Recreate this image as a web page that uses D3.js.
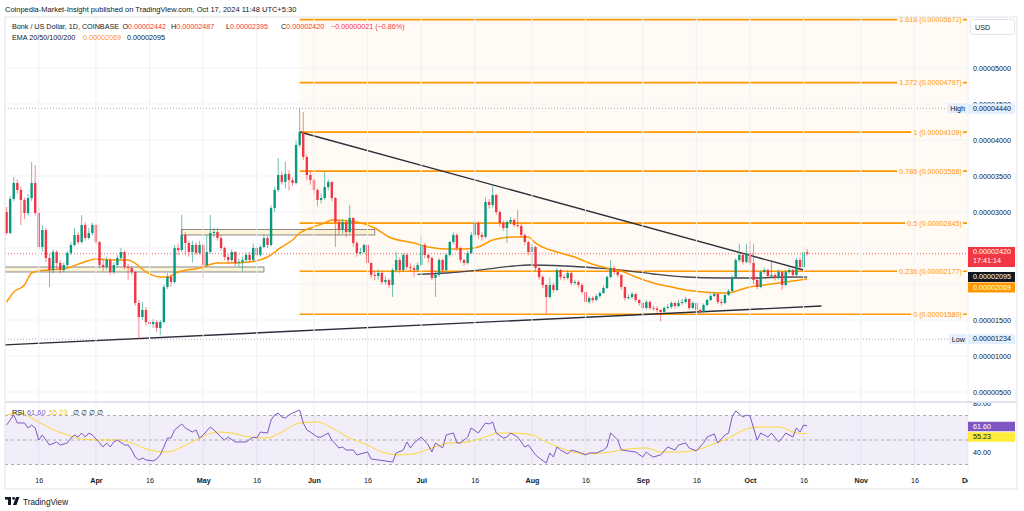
<!DOCTYPE html>
<html>
<head>
<meta charset="utf-8">
<script src="https://cdn.jsdelivr.net/npm/d3@7"></script>
<style>
body{margin:0;background:#fff;}
svg{display:block;font-family:"Liberation Sans",Arial,sans-serif;}
</style>
</head>
<body>
<svg id="chart" width="1024" height="511"></svg>
<script>
// BONK/USD daily, prices in units of 1e-8 USD
var firstDay = '2024-03-07';
var firstOpen = 3000;

var closes = [2708,3181,3403,3306,3167,2986,3194,3403,2986,2514,
	2750,2361,2194,2444,2292,2194,2264,2431,2542,2681,
	2583,2819,2639,2708,2819,2583,2264,2236,2333,2167,
	2264,2361,2444,2236,2222,2167,1736,1542,1639,1472,
	1444,1472,1389,1472,1958,2097,2028,2500,2472,2681,
	2569,2444,2542,2431,2542,2264,2444,2708,2722,2639,
	2500,2375,2333,2444,2292,2306,2333,2403,2333,2500,
	2403,2514,2639,2542,3056,3306,3514,3417,3528,3444,
	3403,3931,4111,3764,3514,3444,3306,3167,3194,3347,
	3417,3194,2861,2750,2861,2722,2917,2569,2431,2444,
	2542,2292,2125,2111,2153,2028,2056,1986,2194,2333,
	2194,2403,2236,2222,2194,2264,2542,2403,2361,2083,
	2125,2333,2194,2403,2583,2681,2500,2333,2292,2431,
	2681,2847,2681,2653,3139,3097,3236,3000,2847,2778,
	2861,2889,2819,2806,2681,2583,2444,2514,2222,2097,
	1986,1819,1986,1917,2194,2097,2083,2153,2014,2028,
	1986,1889,1750,1806,1778,1833,1875,1944,2097,2222,
	2167,2125,1958,1806,1819,1861,1778,1736,1667,1750,
	1667,1660,1639,1611,1667,1681,1736,1694,1736,1750,
	1792,1667,1736,1639,1611,1708,1778,1833,1861,1750,
	1736,1847,1903,2097,2333,2403,2306,2431,2292,2056,
	1958,2167,2194,2111,2125,2083,2167,1986,2167,2194,
	2125,2333,2236,2442,2420];

var highs = [3070,3220,3486,3450,3350,3200,3250,3694,3653,3050,
	2820,2780,2420,2480,2470,2330,2300,2460,2580,2778,
	2720,2958,2860,2780,2850,2840,2600,2350,2380,2360,
	2300,2400,2500,2470,2280,2250,2180,1780,1750,1680,
	1560,1510,1500,1500,1990,2150,2130,2540,2560,2960,
	2720,2600,2600,2580,2600,2560,2680,2958,2780,2780,
	2680,2520,2420,2480,2460,2350,2380,2440,2450,2560,
	2520,2540,2680,2670,3090,3350,3750,3560,3700,3580,
	3480,3990,4440,4389,3800,3560,3470,3330,3260,3560,
	3450,3430,3210,2890,2900,2880,3100,2930,2600,2500,
	2560,2560,2300,2180,2200,2170,2100,2080,2220,2450,
	2370,2430,2430,2290,2260,2300,2681,2570,2420,2380,
	2180,2360,2350,2430,2600,2720,2700,2520,2350,2460,
	2720,2900,2870,2720,3200,3180,3360,3250,3020,2880,
	2890,2930,2910,3030,2840,2700,2600,2560,2530,2240,
	2120,2000,2090,2020,2220,2210,2130,2190,2170,2060,
	2050,2010,1900,1830,1830,1860,1900,1980,2120,2333,
	2250,2200,2140,1970,1860,1890,1870,1790,1750,1780,
	1770,1700,1690,1650,1690,1720,1760,1750,1780,1790,
	1820,1800,1760,1750,1660,1730,1800,1860,1890,1880,
	1790,1870,1930,2120,2360,2560,2430,2560,2600,2560,
	2100,2190,2230,2210,2330,2150,2200,2180,2190,2220,
	2210,2360,2370,2520,2487];

var lows = [2680,2690,3150,3250,2819,2900,2950,3150,2950,2480,
	2450,2300,1958,2150,2200,2150,2160,2230,2400,2520,
	2550,2560,2600,2620,2680,2550,2220,2180,2200,2130,
	2140,2240,2330,2200,2060,2120,1700,1234,1500,1420,
	1400,1390,1330,1290,1450,1930,1960,2000,2400,2440,
	2400,2380,2300,2400,2400,2083,2240,2420,2650,2600,
	2460,2330,2290,2300,2250,2240,2180,2300,2300,2310,
	2380,2380,2500,2500,2520,3000,3280,3380,3330,3300,
	3360,3380,3900,3720,3440,3380,3250,3080,3120,3170,
	3300,3150,2514,2680,2700,2650,2700,2520,2380,2400,
	2420,2250,2080,2050,2060,1990,1990,1940,1820,2160,
	2150,2170,2200,2180,2100,2170,2240,2360,2300,2050,
	1820,2100,2150,2170,2380,2550,2460,2300,2250,2270,
	2410,2650,2630,2600,2630,3050,3060,2960,2800,2740,
	2569,2830,2790,2780,2650,2540,2400,2264,2180,2060,
	1940,1580,1800,1880,1900,2060,2050,2060,1980,1990,
	1950,1860,1720,1720,1740,1760,1810,1860,1930,2080,
	2130,2090,1920,1770,1780,1800,1750,1700,1640,1650,
	1640,1630,1600,1480,1590,1650,1660,1660,1680,1710,
	1730,1640,1650,1610,1580,1600,1690,1760,1820,1720,
	1700,1720,1830,1890,2080,2300,2270,2290,2260,2000,
	1930,1940,2140,2080,2090,2050,2060,1920,1970,2140,
	2090,2110,2200,2220,2395];

// EMA lines (day offsets from firstDay)
var emaOrangeDays = [0,2,5,7,9,12,17,21,25,30,34,36,39,43,45,48,54,59,63,68,73,77,80,82,85,89,91,98,103,107,114,118,123,128,132,136,142,146,148,154,159,163,168,172,176,181,186,190,195,200,202,205,208,212,216,220,224];
var emaOrangeValues = [1750,1889,1986,2153,2181,2194,2222,2292,2347,2333,2333,2285,2167,2097,2097,2167,2222,2292,2292,2306,2375,2514,2611,2708,2778,2847,2889,2861,2778,2653,2569,2514,2486,2486,2514,2611,2653,2653,2569,2444,2375,2292,2222,2181,2097,2014,1958,1917,1889,1875,1875,1917,1958,1986,2014,2042,2069];
var emaGrayDays = [115,123,132,142,146,156,165,172,181,190,200,209,218,224];
var emaGrayValues = [2135,2153,2194,2250,2264,2250,2222,2194,2139,2097,2083,2083,2097,2095];

// RSI pane
var rsiDays = [0,2,3,5,6,7,8,9,10,12,14,15,17,18,19,20,21,22,23,24,26,27,28,29,30,31,33,34,35,36,37,38,39,41,42,43,44,45,46,47,49,50,52,53,54,55,57,58,60,61,62,64,65,67,69,70,71,73,74,75,76,77,78,79,80,82,83,84,85,87,88,90,91,93,94,95,97,98,100,101,102,104,106,108,109,111,112,113,114,116,118,119,120,122,123,125,126,127,129,130,132,134,135,136,137,139,140,141,143,145,146,148,149,151,152,153,154,155,157,158,160,162,163,165,167,168,169,171,172,174,176,178,179,180,181,183,185,187,188,190,191,193,195,196,198,199,201,202,203,204,206,207,208,209,210,211,213,214,216,217,218,220,221,222,223,224];
var rsiValues = [62.2,70.4,63.9,63.9,59.8,62.2,59.8,50.0,54.1,45.9,48.4,45.9,47.6,51.6,54.1,52.4,55.7,52.4,55.7,54.1,47.6,44.3,47.6,44.3,48.4,50.0,45.9,45.9,41.8,36.1,33.7,35.3,33.7,32.9,34.5,37.8,44.3,51.6,51.6,58.2,63.1,59.8,56.5,58.2,51.6,54.1,60.6,58.2,52.4,50.0,52.4,48.4,48.4,48.4,52.4,51.6,56.5,55.7,66.3,70.4,72.0,68.8,67.9,70.4,72.0,74.5,63.9,58.2,56.5,52.4,52.4,55.7,50.0,43.5,44.3,41.8,41.8,37.8,39.4,40.2,34.5,33.7,32.9,32.0,39.4,41.8,48.4,43.5,47.6,52.4,45.9,40.2,47.6,43.5,54.1,55.7,47.6,47.6,52.4,59.8,55.7,63.9,63.1,64.7,55.7,51.6,52.4,55.7,52.4,44.3,45.9,37.8,35.3,31.2,39.4,36.1,44.3,41.8,38.6,41.8,40.2,37.8,39.4,39.4,41.8,44.3,55.7,50.0,41.8,41.0,40.2,36.1,40.2,37.8,36.1,37.8,44.3,41.8,45.9,47.6,43.5,41.0,47.6,52.4,54.9,47.6,54.1,55.7,68.8,73.7,68.8,70.4,69.6,59.8,50.0,55.7,52.4,55.7,48.4,51.6,55.7,52.4,59.8,56.5,62.2,61.6];
var rsiMaDays = [0,4,7,12,17,21,26,31,35,40,45,49,54,59,63,68,73,77,82,87,91,96,101,105,110,115,119,124,129,133,138,141,147,151,155,162,169,174,179,183,188,193,197,202,207,211,216,221,224];
var rsiMaValues = [70.4,72.0,67.9,59.8,54.1,50.8,50.0,50.0,47.6,41.8,40.2,44.3,51.6,56.5,55.7,52.4,51.6,56.5,63.9,64.7,59.8,51.6,45.9,40.2,37.8,39.4,43.5,47.6,48.4,51.6,55.7,55.7,54.1,48.4,43.5,38.6,40.2,42.7,43.5,40.2,40.2,41.8,45.9,51.6,59.0,60.6,60.6,55.7,55.2];

// fibonacci retracement
var fibLevels = ['1.618','1.272','1','0.786','0.5','0.236','0'];
var fibPrices = [5672,4797,4109,3568,2845,2177,1580];
var fibStart = '2024-05-28';

// support zones and trend lines
var zoneStarts = ['2024-03-06','2024-04-25'];
var zoneEnds = ['2024-05-18','2024-06-18'];
var zoneTops = [2236,2757];
var zoneBottoms = [2167,2681];
var trendDates = [['2024-05-28','2024-10-16'],['2024-03-06','2024-10-21']];
var trendPrices = [[4111,2194],[1153,1694]];

var highPrice = 4440, lowPrice = 1234, lastPrice = 2420;
var priceTicks = [500,1000,1500,2000,2500,3000,3500,4000,4500,5000];
var priceLabels = [500,1000,1500,3000,3500,4000,4500,5000]; // 2000 and 2500 sit under the value tags
var timeTicks = ['2024-03-16','2024-04-01','2024-04-16','2024-05-01','2024-05-16','2024-06-01','2024-06-16','2024-07-01','2024-07-16','2024-08-01','2024-08-16','2024-09-01','2024-09-16','2024-10-01','2024-10-16','2024-11-01','2024-11-16','2024-12-01'];


var parseDay = d3.utcParse('%Y-%m-%d');
var day0 = parseDay(firstDay);
function dayDate(n){ return d3.utcDay.offset(day0, n); }
function fmtPrice(v){ return (v/1e8).toFixed(8); }

var GREEN = '#089981', RED = '#f23645', ORANGE = '#ff9800', PURPLE = '#7e57c2', TEXT = '#131722';
var FONT = '"Liberation Sans",Arial,sans-serif';
var plotL = 5, plotR = 968, mainT = 17, mainB = 401, rsiT = 403, rsiB = 474;

var x = d3.scaleUtc().domain([parseDay('2024-03-07'), parseDay('2024-12-01')]).range([6.6, 968]);
var y = d3.scaleLinear().domain([0, 5000]).range([428, 68]);
var yr = d3.scaleLinear().domain([30, 70]).range([464.5, 415.5]);

var svg = d3.select('#chart');
var defs = svg.append('defs');
function clip(id, x0, y0, w, h){
	defs.append('clipPath').attr('id', id).append('rect').attr('x', x0).attr('y', y0).attr('width', w).attr('height', h);
}
clip('cMain', plotL, mainT, plotR-plotL, mainB-mainT);
clip('cRsi', plotL, rsiT, plotR-plotL, rsiB-rsiT);
clip('cTime', plotL, rsiB, plotR-plotL, 16);
clip('cRsiAxis', plotR, rsiT, 60, rsiB-rsiT);

svg.append('rect').attr('width', 1024).attr('height', 511).attr('fill', '#fff');

var main = svg.append('g').attr('clip-path', 'url(#cMain)');

// fib background
var fx = x(parseDay(fibStart));
main.append('rect')
	.attr('x', fx).attr('y', y(fibPrices[0]))
	.attr('width', plotR-fx).attr('height', y(fibPrices[6])-y(fibPrices[0]))
	.attr('fill', 'rgba(255,152,0,0.045)');

// grid
var tickDates = timeTicks.map(parseDay);
svg.append('g').selectAll('line').data(tickDates).enter().append('line')
	.attr('x1', function(d){return x(d);}).attr('x2', function(d){return x(d);})
	.attr('y1', mainT).attr('y2', rsiB)
	.attr('stroke', '#eef1f8').attr('stroke-width', 1);
main.append('g').selectAll('line').data(priceTicks).enter().append('line')
	.attr('x1', plotL).attr('x2', plotR)
	.attr('y1', function(d){return y(d);}).attr('y2', function(d){return y(d);})
	.attr('stroke', '#f0f3fa');

// zones
main.append('g').selectAll('rect').data(zoneStarts).enter().append('rect')
	.attr('x', function(d){return x(parseDay(d));})
	.attr('y', function(d,i){return y(zoneTops[i]);})
	.attr('width', function(d,i){return x(parseDay(zoneEnds[i]))-x(parseDay(d));})
	.attr('height', function(d,i){return y(zoneBottoms[i])-y(zoneTops[i]);})
	.attr('fill', 'rgba(250,235,180,0.55)')
	.attr('stroke', '#8a8a8a').attr('stroke-width', 1);

// fib lines
main.append('g').selectAll('line').data(fibPrices).enter().append('line')
	.attr('x1', fx).attr('x2', plotR-1)
	.attr('y1', function(d){return y(d);}).attr('y2', function(d){return y(d);})
	.attr('stroke', ORANGE).attr('stroke-width', 1.6);

// high / low / last price lines
[[highPrice,'#9598a1'],[lowPrice,'#9598a1'],[lastPrice,RED]].forEach(function(p){
	main.append('line').attr('x1', plotL).attr('x2', plotR)
		.attr('y1', y(p[0])).attr('y2', y(p[0]))
		.attr('stroke', p[1]).attr('stroke-width', 1)
		.attr('stroke-dasharray', '1,2').attr('opacity', 0.8);
});

// EMAs
var emaLine = d3.line().curve(d3.curveMonotoneX)
	.x(function(d){return x(dayDate(d[0]));}).y(function(d){return y(d[1]);});
main.append('path').datum(d3.zip(emaGrayDays, emaGrayValues))
	.attr('d', emaLine).attr('fill', 'none').attr('stroke', '#434651').attr('stroke-width', 1.3);
main.append('path').datum(d3.zip(emaOrangeDays, emaOrangeValues))
	.attr('d', emaLine).attr('fill', 'none').attr('stroke', ORANGE).attr('stroke-width', 1.5);

// trend lines
main.append('g').selectAll('line').data(trendDates).enter().append('line')
	.attr('x1', function(d){return x(parseDay(d[0]));})
	.attr('x2', function(d){return x(parseDay(d[1]));})
	.attr('y1', function(d,i){return y(trendPrices[i][0]);})
	.attr('y2', function(d,i){return y(trendPrices[i][1]);})
	.attr('stroke', '#2a2e39').attr('stroke-width', 1.4);

// candles
var candles = closes.map(function(c, i){
	return {date: dayDate(i), open: i === 0 ? firstOpen : closes[i-1], high: highs[i], low: lows[i], close: c};
});
var cg = main.append('g').selectAll('g').data(candles).enter().append('g');
cg.append('line')
	.attr('x1', function(d){return x(d.date);}).attr('x2', function(d){return x(d.date);})
	.attr('y1', function(d){return y(d.high);}).attr('y2', function(d){return y(d.low);})
	.attr('stroke', function(d){return d.close >= d.open ? GREEN : RED;})
	.attr('stroke-width', 0.9).attr('opacity', 0.65);
cg.append('rect')
	.attr('x', function(d){return x(d.date)-1.2;}).attr('width', 2.4)
	.attr('y', function(d){return y(Math.max(d.open, d.close));})
	.attr('height', function(d){return Math.max(0.8, Math.abs(y(d.open)-y(d.close)));})
	.attr('fill', function(d){return d.close >= d.open ? GREEN : RED;});

// fib labels (text over a small patch of the fib background)
var fl = svg.append('g').attr('font-size', 7.2);
fibPrices.forEach(function(p, i){
	var g = fl.append('g');
	var bg = g.append('rect');
	var t = g.append('text').attr('x', 962).attr('y', y(p)+2.5).attr('text-anchor', 'end').attr('fill', ORANGE)
		.text(fibLevels[i]+' ('+fmtPrice(p)+')');
	var w = t.node().getComputedTextLength();
	bg.attr('x', 962-w-2).attr('y', y(p)-4).attr('width', w+3).attr('height', 8).attr('fill', '#fffaf3');
});

// RSI pane
var rp = svg.append('g').attr('clip-path', 'url(#cRsi)');
rp.append('rect').attr('x', plotL).attr('width', plotR-plotL)
	.attr('y', yr(70)).attr('height', yr(30)-yr(70)).attr('fill', 'rgba(126,87,194,0.1)');
rp.append('g').selectAll('line').data([70,50,30]).enter().append('line')
	.attr('x1', plotL).attr('x2', plotR)
	.attr('y1', function(d){return yr(d);}).attr('y2', function(d){return yr(d);})
	.attr('stroke', '#9598a1').attr('stroke-dasharray', '3,3').attr('stroke-width', 0.8);
rp.append('path').datum(d3.zip(rsiMaDays, rsiMaValues))
	.attr('d', d3.line().curve(d3.curveMonotoneX).x(function(d){return x(dayDate(d[0]));}).y(function(d){return yr(d[1]);}))
	.attr('fill', 'none').attr('stroke', '#fdd835').attr('stroke-width', 1);
rp.append('path').datum(d3.zip(rsiDays, rsiValues))
	.attr('d', d3.line().x(function(d){return x(dayDate(d[0]));}).y(function(d){return yr(d[1]);}))
	.attr('fill', 'none').attr('stroke', PURPLE).attr('stroke-width', 1);

var rl = svg.append('text').attr('y', 415).attr('font-size', 7.4).attr('fill', TEXT);
rl.append('tspan').attr('x', 12).text('RSI');
rl.append('tspan').attr('x', 27).attr('fill', PURPLE).text('61.60');
rl.append('tspan').attr('x', 49).attr('fill', '#f0c800').text('55.23');
[73, 81, 89, 97].forEach(function(px){ rl.append('tspan').attr('x', px).text('\u2205'); });

// frame
svg.append('rect').attr('x', plotL).attr('y', mainT).attr('width', 1017-plotL).attr('height', 489-mainT)
	.attr('fill', 'none').attr('stroke', '#e0e3eb');
svg.append('line').attr('x1', plotL).attr('x2', 1017).attr('y1', 402).attr('y2', 402)
	.attr('stroke', '#e0e3eb').attr('stroke-width', 2);

// price axis
var pa = svg.append('g').attr('transform', 'translate('+plotR+',0)')
	.call(d3.axisRight(y).tickValues(priceLabels).tickFormat(fmtPrice).tickSize(0).tickPadding(5));
pa.select('.domain').remove();
pa.selectAll('text').attr('font-size', 7.2).attr('fill', TEXT).attr('font-family', FONT);

var ra = svg.append('g').attr('clip-path', 'url(#cRsiAxis)').append('g').attr('transform', 'translate('+plotR+',0)')
	.call(d3.axisRight(yr).tickValues([40,80]).tickFormat(d3.format('.2f')).tickSize(0).tickPadding(5));
ra.select('.domain').remove();
ra.selectAll('text').attr('font-size', 7.2).attr('fill', TEXT).attr('font-family', FONT);

// axis value tags
function tag(yc, h, bg, fg, lines){
	svg.append('rect').attr('x', plotR).attr('y', yc-h/2).attr('width', 47).attr('height', h).attr('fill', bg);
	lines.forEach(function(s, i){
		svg.append('text').attr('x', plotR+5).attr('y', yc-h/2+7.2+i*9).attr('font-size', 7.2).attr('fill', fg).text(s);
	});
}
tag(y(highPrice)+0.5, 10, '#e3effd', TEXT, [fmtPrice(highPrice)]);
tag(y(lowPrice), 10, '#e3effd', TEXT, [fmtPrice(lowPrice)]);
tag(257, 20, RED, '#fff', [fmtPrice(lastPrice), '17:41:14']);
tag(277, 10, TEXT, '#fff', ['0.00002095']);
tag(287.5, 10, ORANGE, '#fff', ['0.00002069']);
tag(426.5, 9.5, PURPLE, '#fff', ['61.60']);
tag(437, 9.5, '#ffeb3b', TEXT, ['55.23']);
[['High', highPrice], ['Low', lowPrice]].forEach(function(p){
	var g = svg.append('g');
	var bg = g.append('rect');
	var t = g.append('text').attr('x', 965).attr('y', y(p[1])+2.5).attr('text-anchor', 'end')
		.attr('font-size', 7.2).attr('fill', TEXT).text(p[0]);
	var w = t.node().getComputedTextLength();
	bg.attr('x', 965-w-3).attr('y', y(p[1])-5).attr('width', w+5).attr('height', 10).attr('fill', '#e3effd');
});

// USD box
svg.append('rect').attr('x', 970.5).attr('y', 19.5).attr('width', 44).attr('height', 15).attr('rx', 2)
	.attr('fill', '#fff').attr('stroke', '#e0e3eb');
svg.append('text').attr('x', 975).attr('y', 30).attr('font-size', 7.2).attr('fill', TEXT).text('USD');

// time axis
var ta = svg.append('g').attr('clip-path', 'url(#cTime)').append('g').attr('transform', 'translate(0,'+rsiB+')')
	.call(d3.axisBottom(x).tickValues(tickDates).tickSize(0).tickPadding(4)
		.tickFormat(function(d){ return d.getUTCDate() === 1 ? d3.utcFormat('%b')(d) : '16'; }));
ta.select('.domain').remove();
ta.selectAll('text').attr('font-size', 7.2).attr('fill', TEXT).attr('font-family', FONT)
	.attr('font-weight', function(d){ return d.getUTCDate() === 1 ? 'bold' : 'normal'; });

// header
svg.append('text').attr('x', 5).attr('y', 11.5).attr('font-size', 7.5).attr('fill', TEXT)
	.text('Coinpedia-Market-Insight published on TradingView.com, Oct 17, 2024 11:48 UTC+5:30');
var h2 = svg.append('text').attr('y', 28.5).attr('font-size', 7.2).attr('fill', TEXT);
h2.append('tspan').attr('x', 12).text('Bonk / US Dollar, 1D, COINBASE');
h2.append('tspan').attr('x', 122.5).text('O');
h2.append('tspan').attr('fill', RED).text('0.00002442');
h2.append('tspan').attr('x', 171).text('H');
h2.append('tspan').attr('fill', RED).text('0.00002487');
h2.append('tspan').attr('x', 226).text('L');
h2.append('tspan').attr('fill', RED).text('0.00002395');
h2.append('tspan').attr('x', 281).text('C');
h2.append('tspan').attr('fill', RED).text('0.00002420');
h2.append('tspan').attr('x', 331).attr('fill', RED).text('\u22120.00000021 (\u22120.86%)');
var h3 = svg.append('text').attr('y', 39.5).attr('font-size', 7.2).attr('fill', TEXT);
h3.append('tspan').attr('x', 12).text('EMA 20/50/100/200');
h3.append('tspan').attr('x', 83).attr('fill', ORANGE).text('0.00002069');
h3.append('tspan').attr('x', 127).text('0.00002095');

// TradingView logo
var lg = svg.append('g').attr('fill', TEXT);
lg.append('rect').attr('x', 5).attr('y', 497).attr('width', 6).attr('height', 2.6);
lg.append('rect').attr('x', 8).attr('y', 497).attr('width', 3).attr('height', 8);
lg.append('circle').attr('cx', 13.6).attr('cy', 498.4).attr('r', 1.4);
lg.append('path').attr('d', 'M16,497 L19.5,497 L16.5,505 L13,505 Z');
svg.append('text').attr('x', 23).attr('y', 504.5).attr('font-size', 8.2).attr('fill', TEXT).text('TradingView');
</script>
</body>
</html>
